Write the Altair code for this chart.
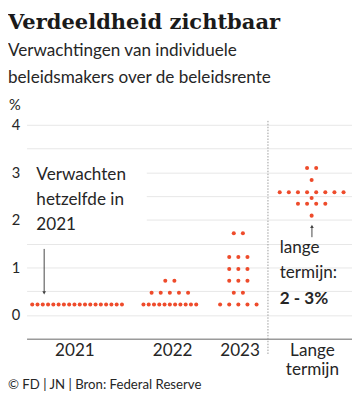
import altair as alt
import pandas as pd

# ---------------- data ----------------
columns = ["2021", "2022", "2023", "Lange termijn"]

values_2021 = [0.22]
counts_2021 = [18]
values_2022 = [0.22, 0.47, 0.72]
counts_2022 = [11, 5, 2]
values_2023 = [0.22, 0.47, 0.72, 0.97, 1.22, 1.72]
counts_2023 = [5, 2, 3, 3, 3, 2]
values_long = [2.09, 2.34, 2.46, 2.58, 2.84, 3.09]
counts_long = [1, 4, 1, 8, 1, 2]

y_labels = [0, 1, 2, 3, 4]
y_grid = [0, 0.5, 1, 1.5, 2, 2.5, 3, 3.5, 4]

title_text = "Verdeeldheid zichtbaar"
subtitle_lines = ["Verwachtingen van individuele", "beleidsmakers over de beleidsrente"]
note_2021 = ["Verwachten", "hetzelfde in", "2021"]
note_long = ["lange", "termijn:"]
note_long_bold = "2 - 3%"
footer_text = "© FD | JN | Bron: Federal Reserve"
unit_text = "%"

# ---------------- layout ----------------
W, H = 333, 219
centers = [51.7, 146.6, 216.7, 291.7]     # horizontal centre of each dot column
label_pos = [49, 149, 218, 292]           # position of the column labels
WIDE, NARROW = 9.33, 5.4                  # dot spacing in a row

groups = [
    (values_2021, counts_2021),
    (values_2022, counts_2022),
    (values_2023, counts_2023),
    (values_long, counts_long),
]

rows = []
for col, centre, (vals, cnts) in zip(columns, centers, groups):
    for v, n in zip(vals, cnts):
        step = WIDE if n <= 8 else NARROW
        for i in range(n):
            rows.append({"kolom": col, "rente": v, "x": centre + (i - (n - 1) / 2) * step})
dots_df = pd.DataFrame(rows)

TEXT = "#262626"
SANS = "Lato"
RED = "#ee4b2b"

label_expr = ""
for pos, name in zip(label_pos, columns):
    lab = "['Lange', 'termijn']" if " " in name else f"'{name}'"
    label_expr += f"datum.value == {pos} ? {lab} : "
label_expr += "''"

y_label_expr = "indexof([" + ", ".join(str(v) for v in y_labels) + "], datum.value) >= 0 ? '' + datum.value : ''"

one = pd.DataFrame({"a": [0]})

dots = alt.Chart(dots_df).mark_circle(size=17, color=RED, opacity=1).encode(
    x=alt.X("x:Q", scale=alt.Scale(domain=[0, W], nice=False, zero=False),
            axis=alt.Axis(values=label_pos, labelExpr=label_expr, title=None,
                          grid=False, ticks=False, domain=True,
                          domainColor="#9a9a9a", domainWidth=1.5,
                          labelFont=SANS, labelFontSize=17.5, labelColor=TEXT,
                          labelPadding=3, labelLineHeight=20,
                          labelFlush=False, labelOverlap=False)),
    y=alt.Y("rente:Q", scale=alt.Scale(domain=[-0.5, 4], nice=False, zero=False),
            axis=alt.Axis(values=y_grid, labelExpr=y_label_expr,
                          title=None, grid=True, gridColor="#e6e6e6", gridWidth=1,
                          ticks=False, domain=False, labelFont=SANS,
                          labelFontSize=15, labelColor=TEXT, labelPadding=7,
                          labelOverlap=False)),
)

cover = alt.Chart(one).mark_rect(color="white").encode(
    x=alt.value(0), x2=alt.value(123), y=alt.value(40), y2=alt.value(108)
)

divider = alt.Chart(one).mark_rule(color="#9a9a9a", strokeDash=[1.5, 1.5], strokeWidth=1).encode(
    x=alt.value(247), y=alt.value(-4), y2=alt.value(235)
)

arrow1 = alt.Chart(one).mark_rule(color="#444", strokeWidth=1).encode(
    x=alt.value(18), y=alt.value(127), y2=alt.value(172)
)
head1 = alt.Chart(one).mark_point(shape="triangle-down", filled=True, size=14,
                                   color="#444", opacity=1).encode(
    x=alt.value(18), y=alt.value(172)
)
arrow2 = alt.Chart(one).mark_rule(color="#444", strokeWidth=1).encode(
    x=alt.value(292), y=alt.value(104), y2=alt.value(115)
)
head2 = alt.Chart(one).mark_point(shape="triangle-up", filled=True, size=14,
                                   color="#444", opacity=1).encode(
    x=alt.value(292), y=alt.value(104)
)

def txt(lines, x, y, size, font=SANS, weight="normal", color=TEXT, lh=26):
    return alt.Chart(one).mark_text(
        text=lines, align="left", baseline="alphabetic", font=font,
        fontSize=size, fontWeight=weight, color=color, lineHeight=lh
    ).encode(x=alt.value(x), y=alt.value(y))

title = txt(title_text, -19, -98, 21.5, font="DejaVu Serif", weight="bold", color="#1a1a1a")
subtitle = txt(subtitle_lines, -19, -70, 17.5, lh=27)
unit = txt(unit_text, -18, -15, 15)
n2021 = txt(note_2021, 10, 56, 17.5)
nlong = txt(note_long, 259, 131, 17.5)
nlongb = txt(note_long_bold, 259, 183, 17.5, weight="bold")
footer = txt(footer_text, -19, 270, 13.5)

chart = alt.layer(
    cover, dots, divider, arrow1, head1, arrow2, head2,
    title, subtitle, unit, n2021, nlong, nlongb, footer
).properties(
    width=W, height=H,
    autosize=alt.AutoSizeParams(type="none"),
    padding={"left": 19, "top": 115, "right": 0, "bottom": 54},
    background="white",
).configure_view(stroke=None)

chart.save("out.html", embed_options={"renderer": "svg", "actions": False})
